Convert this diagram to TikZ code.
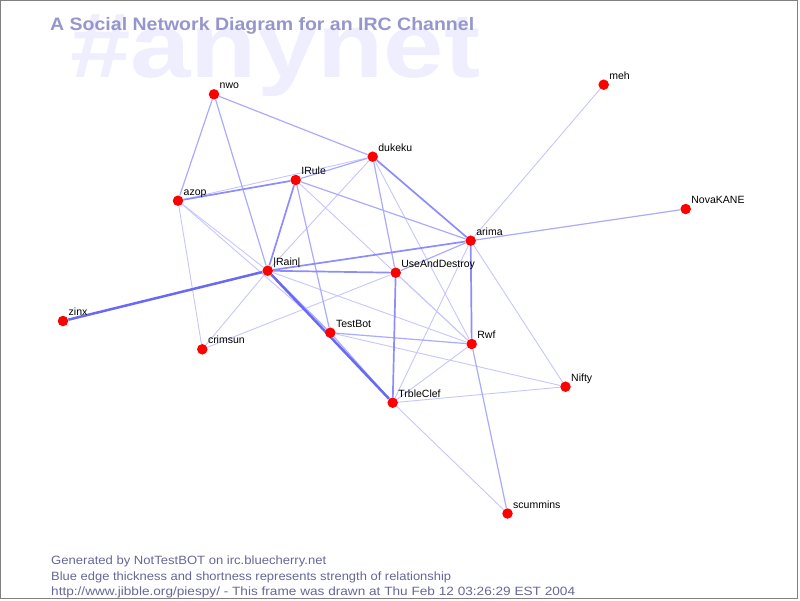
\documentclass[tikz,border=0pt]{standalone}
\usepackage{fontspec}
\setmainfont{Liberation Sans}
\pgfdeclarelayer{bg}
\pgfsetlayers{bg,main}
\definecolor{dotred}{RGB}{255,0,0}
\definecolor{eA}{RGB}{198,198,255}
\definecolor{eB}{RGB}{170,170,255}
\definecolor{eC}{RGB}{140,140,255}
\definecolor{eD}{RGB}{105,105,245}
\definecolor{wmcol}{RGB}{238,238,255}
\definecolor{titlecol}{RGB}{150,150,204}
\definecolor{footcol}{RGB}{102,102,153}
\definecolor{framecol}{RGB}{128,128,128}
\begin{document}
\begin{tikzpicture}[x=1pt,y=-1pt,
  persondot/.style={circle, fill=dotred, minimum size=10.5pt, inner sep=0pt},
  nicklab/.style={anchor=base west, inner sep=0pt, font=\fontsize{10.5}{12}\selectfont, xshift=5.5pt, yshift=5.5pt},
  ethin/.style={draw=eA, line width=0.9pt},
  emed/.style={draw=eB, line width=1.2pt},
  estr/.style={draw=eC, line width=1.7pt},
  ebold/.style={draw=eD, line width=2.5pt},
  foottext/.style={anchor=base west, inner sep=0pt, text=footcol, font=\fontsize{12}{14}\selectfont}]
\useasboundingbox (0,0) rectangle (800,600);

% people
\node[persondot] (nwo) at (214,94.3) {};
\node[persondot] (dukeku) at (372.7,156.7) {};
\node[persondot] (irule) at (295.7,180) {};
\node[persondot] (azop) at (178,200.7) {};
\node[persondot] (arima) at (470.7,240.7) {};
\node[persondot] (rain) at (267.7,270.7) {};
\node[persondot] (uad) at (395.7,272.7) {};
\node[persondot] (zinx) at (63,321) {};
\node[persondot] (testbot) at (330.3,332.7) {};
\node[persondot] (crimsun) at (202.3,349.3) {};
\node[persondot] (rwf) at (471.7,344) {};
\node[persondot] (nifty) at (565.5,386.7) {};
\node[persondot] (trbleclef) at (392.7,402.7) {};
\node[persondot] (scummins) at (507.5,513.5) {};
\node[persondot] (meh) at (603.7,84.7) {};
\node[persondot] (novakane) at (685.7,209) {};

% nick labels
\node[nicklab] (nwoL) at (nwo) {nwo};
\node[nicklab] (dukekuL) at (dukeku) {dukeku};
\node[nicklab] (iruleL) at (irule) {IRule};
\node[nicklab] (azopL) at (azop) {azop};
\node[nicklab] (arimaL) at (arima) {arima};
\node[nicklab] (rainL) at (rain) {|Rain|};
\node[nicklab] (uadL) at (uad) {UseAndDestroy};
\node[nicklab] (zinxL) at (zinx) {zinx};
\node[nicklab] (testbotL) at (testbot) {TestBot};
\node[nicklab] (crimsunL) at (crimsun) {crimsun};
\node[nicklab] (rwfL) at (rwf) {Rwf};
\node[nicklab] (niftyL) at (nifty) {Nifty};
\node[nicklab] (trbleclefL) at (trbleclef) {TrbleClef};
\node[nicklab] (scumminsL) at (scummins) {scummins};
\node[nicklab] (mehL) at (meh) {meh};
\node[nicklab] (novakaneL) at (novakane) {NovaKANE};

\begin{pgfonlayer}{bg}
% watermark and title
\node[anchor=base west, inner sep=0pt, text=wmcol] (watermark) at (70,77)
  {\resizebox{410pt}{\height}{\fontsize{92}{92}\selectfont\bfseries\#anynet}};
\node[anchor=base west, inner sep=0pt, text=titlecol] (title) at (50,30)
  {\resizebox{424pt}{\height}{\fontsize{18}{20}\selectfont\bfseries A Social Network Diagram for an IRC Channel}};

% relationships
\draw[ethin] (azop) -- (dukeku);
\draw[ethin] (arima) -- (meh);
\draw[ethin] (azop) -- (crimsun);
\draw[ethin] (azop) -- (rain);
\draw[ethin] (azop) -- (testbot);
\draw[ethin] (irule) -- (rwf);
\draw[ethin] (dukeku) -- (rain);
\draw[ethin] (dukeku) -- (rwf);
\draw[ethin] (rain) -- (crimsun);
\draw[ethin] (rain) -- (rwf);
\draw[ethin] (uad) -- (crimsun);
\draw[ethin] (uad) -- (rwf);
\draw[ethin] (arima) -- (trbleclef);
\draw[ethin] (arima) -- (nifty);
\draw[ethin] (testbot) -- (nifty);
\draw[ethin] (rwf) -- (trbleclef);
\draw[ethin] (trbleclef) -- (nifty);
\draw[ethin] (trbleclef) -- (scummins);
\draw[emed] (nwo) -- (azop);
\draw[emed] (nwo) -- (rain);
\draw[emed] (nwo) -- (dukeku);
\draw[emed] (irule) -- (dukeku);
\draw[emed] (arima) -- (novakane);
\draw[emed] (irule) -- (testbot);
\draw[emed] (irule) -- (arima);
\draw[emed] (dukeku) -- (uad);
\draw[emed] (rain) -- (testbot);
\draw[emed] (uad) -- (arima);
\draw[emed] (testbot) -- (rwf);
\draw[emed] (testbot) -- (trbleclef);
\draw[emed] (rwf) -- (scummins);
\draw[estr] (azop) -- (irule);
\draw[estr] (rain) -- (uad);
\draw[estr] (rain) -- (arima);
\draw[estr] (irule) -- (rain);
\draw[estr] (arima) -- (rwf);
\draw[estr] (uad) -- (trbleclef);
\draw[estr] (dukeku) -- (arima);
\draw[ebold] (rain) -- (trbleclef);
\draw[ebold] (zinx) -- (rain);
\end{pgfonlayer}

% footer
\node[foottext] (foot1) at (51,564.5) {\resizebox{275pt}{\height}{Generated by NotTestBOT on irc.bluecherry.net}};
\node[foottext] (foot2) at (51,580) {\resizebox{400pt}{\height}{Blue edge thickness and shortness represents strength of relationship}};
\node[foottext] (foot3) at (51,595.5) {\resizebox{524pt}{\height}{http://www.jibble.org/piespy/ - This frame was drawn at Thu Feb 12 03:26:29 EST 2004}};

% frame
\draw[framecol, line width=1.2pt] (0.6,0.6) rectangle (797.6,598.6);
\end{tikzpicture}
\end{document}
